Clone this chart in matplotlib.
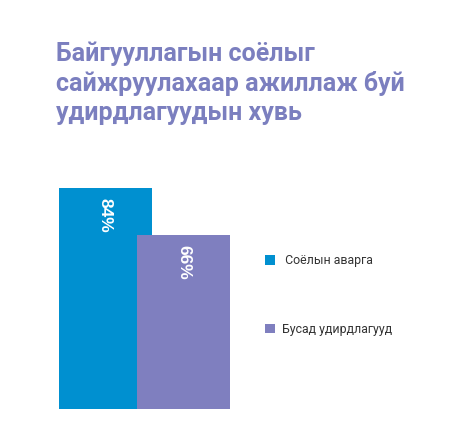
import matplotlib.pyplot as plt

# данные
title = "Байгууллагын соёлыг\nсайжруулахаар ажиллаж буй\nудирдлагуудын хувь"
labels = [" Соёлын аварга", "Бусад удирдлагууд"]
values = [84, 66]
colors = ["#0090d0", "#7f7fbf"]

W, H = 451, 437
fig = plt.figure(figsize=(W / 100, H / 100), dpi=100)

# оси в пикселях: x 59..230, низ 409, 100% = 263 px
ax = fig.add_axes([59 / W, (H - 409) / H, 171 / W, 263 / H])
xs = [0, 0.84]
bars = []
for x, v, c, lab in zip(xs, values, colors, labels):
    b = ax.bar(x, v, width=1.0, color=c, label=lab)
    bars.append(b)
    ax.text(x, v - 10.3, f"{v}%", rotation=270, ha="center", va="center",
            color="white", fontsize=12.5, fontweight="bold",
            family="Liberation Sans")
ax.set_xlim(-0.5, 1.34)
ax.set_ylim(0, 100)
ax.axis("off")

fig.text(56 / W, 1 - 41 / H, title, ha="left", va="top", color="#7b7fbf",
         fontsize=18, fontweight="bold", family="Roboto", linespacing=1.26)

fig.legend(handles=[b[0] for b in bars], labels=labels, loc="center left",
           bbox_to_anchor=(265 / W, (H - 295) / H), frameon=False,
           handlelength=0.8, handleheight=0.8, handletextpad=0.6,
           labelspacing=4.5, borderpad=0, borderaxespad=0,
           prop={"family": "Roboto", "size": 8.9}, labelcolor="#333333")

fig.savefig("out.png", dpi=100)
